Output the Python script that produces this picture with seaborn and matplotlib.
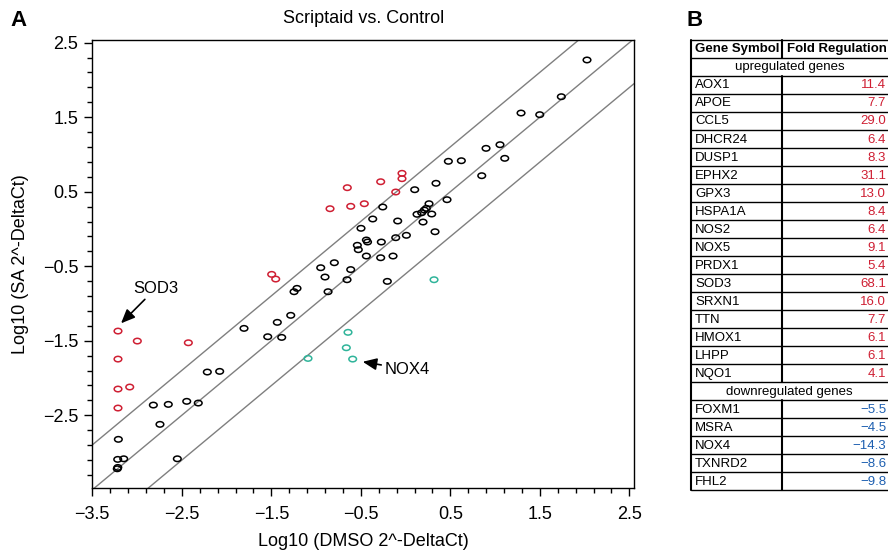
import numpy as np
import pandas as pd
import matplotlib
matplotlib.use("Agg")
import matplotlib.pyplot as plt
import matplotlib.transforms as mtransforms
from matplotlib.path import Path
from matplotlib.ticker import MultipleLocator
import seaborn as sns

# ---------------- data ----------------
ns_x = [2.027, 1.740, 1.290, 1.499, 0.899, 1.055, 1.108, 0.478, 0.623, 0.851,
        0.340, 0.102, 0.463, 0.262, 0.232, 0.210, 0.180, 0.128, 0.292, 0.195,
        -0.088, 0.329, -0.255, -0.367, -0.498, 0.009, -0.110, -0.438, -0.425, -0.271,
        -0.539, -0.528, -0.438, -0.278, -0.140, -0.796, -0.948, -0.613, -0.900, -0.654,
        -0.866, -1.246, -1.213, -1.283, -1.433, -1.540, -1.384, -1.805, -2.215, -2.077,
        -2.818, -2.651, -2.445, -2.316, -2.744, -3.209, -3.216, -3.149, -3.221, -3.215,
        -2.550, -0.204]
ns_y = [2.268, 1.775, 1.556, 1.534, 1.082, 1.131, 0.948, 0.908, 0.916, 0.715,
        0.613, 0.527, 0.393, 0.339, 0.277, 0.254, 0.218, 0.197, 0.201, 0.093,
        0.107, -0.037, 0.295, 0.134, 0.009, -0.085, -0.117, -0.148, -0.175, -0.175,
        -0.219, -0.278, -0.363, -0.386, -0.363, -0.453, -0.520, -0.545, -0.645, -0.681,
        -0.842, -0.842, -0.797, -1.159, -1.253, -1.446, -1.455, -1.334, -1.920, -1.911,
        -2.363, -2.354, -2.313, -2.336, -2.622, -2.823, -3.092, -3.084, -3.218, -3.200,
        -3.084, -0.703]

up_x = [-0.651, -0.844, -0.613, -0.461, -0.278, -0.110, -0.040, -0.040, -1.496,
        -1.451, -3.213, -2.997, -2.427, -3.213, -3.213, -3.082, -3.213]
up_y = [0.554, 0.272, 0.304, 0.339, 0.634, 0.496, 0.747, 0.675, -0.609,
        -0.672, -1.370, -1.504, -1.527, -1.746, -2.148, -2.121, -2.403]

down_x = [-0.643, -0.662, -0.591, -1.090, 0.318]
down_y = [-1.387, -1.594, -1.746, -1.737, -0.681]

fold_threshold = 4.0

up_genes = ["AOX1", "APOE", "CCL5", "DHCR24", "DUSP1", "EPHX2", "GPX3", "HSPA1A",
            "NOS2", "NOX5", "PRDX1", "SOD3", "SRXN1", "TTN", "HMOX1", "LHPP", "NQO1"]
up_fold = ["11.4", "7.7", "29.0", "6.4", "8.3", "31.1", "13.0", "8.4",
           "6.4", "9.1", "5.4", "68.1", "16.0", "7.7", "6.1", "6.1", "4.1"]
down_genes = ["FOXM1", "MSRA", "NOX4", "TXNRD2", "FHL2"]
down_fold = ["\u22125.5", "\u22124.5", "\u221214.3", "\u22128.6", "\u22129.8"]

RED = "#cf1f33"
TEAL = "#2fb49a"
BLUE = "#1d5fb0"

# ---------------- style ----------------
sns.set_style("ticks")
plt.rcParams["font.family"] = ["Liberation Sans", "DejaVu Sans"]
plt.rcParams["axes.unicode_minus"] = True
for k in ("text.color", "axes.labelcolor", "xtick.color", "ytick.color",
          "xtick.labelcolor", "ytick.labelcolor", "axes.edgecolor"):
    plt.rcParams[k] = "black"

fig = plt.figure(figsize=(8.88, 5.55), dpi=100)
W, H = 888, 555
ax = fig.add_axes([92.3 / W, 1 - 488.3 / H, (634 - 92.3) / W, (488.3 - 40) / H])

ell = Path.unit_circle().transformed(mtransforms.Affine2D().scale(1.0, 0.72))

groups = [
    (pd.DataFrame({"x": ns_x, "y": ns_y}), "black"),
    (pd.DataFrame({"x": up_x, "y": up_y}), RED),
    (pd.DataFrame({"x": down_x, "y": down_y}), TEAL),
]

# reference lines: equal and +/- fold threshold
off = np.log10(fold_threshold)
for c in (0.0, off, -off):
    ax.axline((0, c), slope=1, color="#7f7f7f", lw=1.0, zorder=1)

for df, col in groups:
    sns.scatterplot(data=df, x="x", y="y", ax=ax, marker=ell, s=30,
                    facecolor="none", edgecolor=col, linewidth=1.1, zorder=3)

ax.set_xlim(-3.5, 2.552)
ax.set_ylim(-3.48, 2.536)
ax.xaxis.set_major_locator(MultipleLocator(1.0, offset=0.5))
ax.yaxis.set_major_locator(MultipleLocator(1.0, offset=0.5))
ax.xaxis.set_minor_locator(MultipleLocator(0.2, offset=0.1))
ax.yaxis.set_minor_locator(MultipleLocator(0.2, offset=0.1))
ax.tick_params(which="major", direction="out", length=6, width=1.0, labelsize=13,
               color="black", labelcolor="black")
ax.tick_params(which="minor", direction="out", length=3.5, width=1.0, color="black")
ax.tick_params(axis="x", which="major", pad=7)
ax.tick_params(axis="y", which="major", pad=4)
for sp in ax.spines.values():
    sp.set_visible(True)
    sp.set_color("black")
    sp.set_linewidth(1.0)

ax.set_xlabel("Log10 (DMSO 2^-DeltaCt)", fontsize=13, labelpad=7)
ax.set_ylabel("Log10 (SA 2^-DeltaCt)", fontsize=13, labelpad=10)
ax.set_title("Scriptaid vs. Control", fontsize=13, pad=12)

arrow = dict(arrowstyle="-|>,head_length=0.7,head_width=0.3", color="black",
             lw=1.2, shrinkA=0, shrinkB=0)
ax.annotate("SOD3", xy=(-3.179, -1.266), xytext=(-3.045, -0.80),
            fontsize=12, ha="left", va="center", arrowprops=arrow)
ax.annotate("NOX4", xy=(-0.479, -1.782), xytext=(-0.235, -1.884),
            fontsize=12, ha="left", va="center", arrowprops=arrow)

fig.text(10 / W, 1 - 20 / H, "A", fontsize=16, fontweight="bold", va="center", ha="left")
fig.text(686 / W, 1 - 20 / H, "B", fontsize=16, fontweight="bold", va="center", ha="left")

# ---------------- table (panel B) ----------------
tx0, ty_top, ty_bot = 691, 39.5, 490
tab = fig.add_axes([tx0 / W, 1 - ty_bot / H, (W - tx0) / W, (ty_bot - ty_top) / H])
nrows = 2 + len(up_genes) + 1 + len(down_genes)
tab.set_xlim(0, 1)
tab.set_ylim(nrows, 0)
tab.axis("off")
xdiv = (781.7 - tx0) / (W - tx0)
fs = 9.5

rows = [("hdr", "Gene Symbol", "Fold Regulation", "black"),
        ("span", "upregulated genes", None, None)]
rows += [("row", g, v, RED) for g, v in zip(up_genes, up_fold)]
rows += [("span", "downregulated genes", None, None)]
rows += [("row", g, v, BLUE) for g, v in zip(down_genes, down_fold)]

for i, (kind, a, b, col) in enumerate(rows):
    yc = i + 0.55
    if kind == "hdr":
        tab.text(0.02, yc, a, fontsize=fs, fontweight="bold", va="center", ha="left")
        tab.text(xdiv + 0.025, yc, b, fontsize=fs, fontweight="bold", va="center", ha="left")
    elif kind == "span":
        tab.text(0.5, yc, a, fontsize=fs, va="center", ha="center")
    else:
        tab.text(0.02, yc, a, fontsize=fs, va="center", ha="left")
        tab.text(0.99, yc, b, fontsize=fs, va="center", ha="right", color=col)
    if kind != "span":
        tab.plot([xdiv, xdiv], [i, i + 1], color="black", lw=1.5, clip_on=False)

for i in range(nrows + 1):
    tab.plot([0, 1], [i, i], color="black", lw=1.0, clip_on=False)
tab.plot([0, 0], [0, nrows], color="black", lw=1.5, clip_on=False)

fig.savefig("out.png", dpi=100)
